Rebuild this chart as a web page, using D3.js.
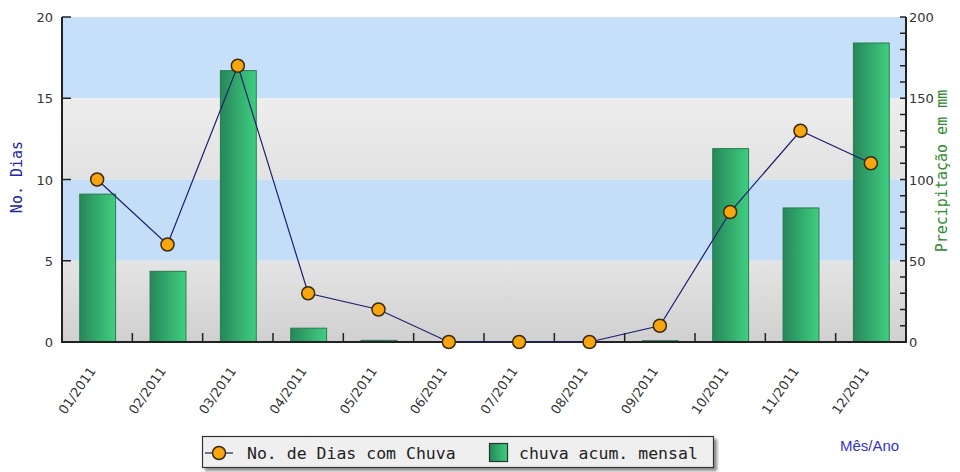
<!DOCTYPE html>
<html><head><meta charset="utf-8">
<script src="https://cdn.jsdelivr.net/npm/d3@7"></script>
<style>body{margin:0;background:#fff}svg{display:block}</style>
</head><body>
<svg id="c" width="960" height="472"></svg>
<script>
const months = ["01/2011","02/2011","03/2011","04/2011","05/2011","06/2011","07/2011","08/2011","09/2011","10/2011","11/2011","12/2011"];
const rainDays = [10,6,17,3,2,0,0,0,1,8,13,11];
const rainMM = [91,43.5,167,8.5,1,0,0,0,0.8,119,82.5,184];
const leftTicks = [0,5,10,15,20];
const rightTicks = [0,50,100,150,200];
const legendLabels = ["No. de Dias com Chuva","chuva acum. mensal"];

const svg = d3.select("#c");
const L=62,R=906,T=17,B=342;
const x = d3.scaleBand().domain(months).range([L,R]).padding(0);
const yL = d3.scaleLinear().domain([0,20]).range([B,T]);
const yR = d3.scaleLinear().domain([0,200]).range([B,T]);

const defs = svg.append("defs");
const gb = defs.append("linearGradient").attr("id","barG").attr("x1",0).attr("x2",1).attr("y1",0).attr("y2",0);
gb.append("stop").attr("offset","0%").attr("stop-color","#27875a");
gb.append("stop").attr("offset","100%").attr("stop-color","#3fcf80");
const g1 = defs.append("linearGradient").attr("id","gr1").attr("x1",0).attr("x2",0).attr("y1",0).attr("y2",1);
g1.append("stop").attr("offset","0%").attr("stop-color","#ededed");
g1.append("stop").attr("offset","100%").attr("stop-color","#e2e2e2");
const g2 = defs.append("linearGradient").attr("id","gr2").attr("x1",0).attr("x2",0).attr("y1",0).attr("y2",1);
g2.append("stop").attr("offset","0%").attr("stop-color","#e4e4e4");
g2.append("stop").attr("offset","100%").attr("stop-color","#d0d0d0");
const sh = defs.append("filter").attr("id","sh").attr("x","-5%").attr("y","-20%").attr("width","115%").attr("height","160%");
sh.append("feGaussianBlur").attr("in","SourceAlpha").attr("stdDeviation",1.5);
sh.append("feOffset").attr("dx",3).attr("dy",3).attr("result","b");
sh.append("feComponentTransfer").append("feFuncA").attr("type","linear").attr("slope",0.45);
const fm = sh.append("feMerge"); fm.append("feMergeNode"); fm.append("feMergeNode").attr("in","SourceGraphic");

// background bands
const bands = [[15,20,"#c6e0fa"],[10,15,"url(#gr1)"],[5,10,"#c4def8"],[0,5,"url(#gr2)"]];
svg.append("g").selectAll("rect").data(bands).join("rect")
  .attr("x",L).attr("width",R-L)
  .attr("y",d=>yL(d[1])).attr("height",d=>yL(d[0])-yL(d[1]))
  .attr("fill",d=>d[2]);

// bars
const bw = x.bandwidth()*0.51;
svg.append("g").selectAll("rect").data(months).join("rect")
  .attr("x",(d)=>x(d)+x.bandwidth()/2-bw/2+0.5)
  .attr("width",bw)
  .attr("y",(d,i)=>yR(rainMM[i]))
  .attr("height",(d,i)=>B-yR(rainMM[i]))
  .attr("fill","url(#barG)").attr("stroke","#2a7a4e").attr("stroke-width",1)
  .attr("display",(d,i)=>rainMM[i]>0?null:"none");

// axes
const axisCol="#222";
const ax = svg.append("g").attr("stroke",axisCol).attr("fill","none");
ax.append("line").attr("x1",L).attr("x2",L).attr("y1",T).attr("y2",B+1).attr("stroke-width",2);
ax.append("line").attr("x1",R).attr("x2",R).attr("y1",T).attr("y2",B+1).attr("stroke-width",2);
ax.append("line").attr("x1",L).attr("x2",R).attr("y1",B).attr("y2",B).attr("stroke-width",2);
ax.selectAll(".lt").data(leftTicks).join("line").attr("class","lt")
  .attr("x1",L).attr("x2",L+9).attr("y1",d=>yL(d)).attr("y2",d=>yL(d)).attr("stroke-width",1.5);
ax.selectAll(".rt").data(d3.range(0,201,10)).join("line").attr("class","rt")
  .attr("x1",R-6).attr("x2",R).attr("y1",d=>yR(d)).attr("y2",d=>yR(d)).attr("stroke-width",1.5);
ax.selectAll(".bt").data(months.slice(1)).join("line").attr("class","bt")
  .attr("x1",d=>x(d)).attr("x2",d=>x(d)).attr("y1",B).attr("y2",B-9).attr("stroke-width",1.5);

// tick labels
const tf = "DejaVu Sans, sans-serif";
svg.append("g").selectAll("text").data(leftTicks).join("text")
  .attr("x",53).attr("y",d=>yL(d)+5).attr("text-anchor","end")
  .attr("font-family",tf).attr("font-size",13).attr("fill","#333").text(d=>d);
svg.append("g").selectAll("text").data(rightTicks).join("text")
  .attr("x",909).attr("y",d=>yR(d)+5).attr("text-anchor","start")
  .attr("font-family",tf).attr("font-size",13).attr("fill","#333").text(d=>d);
svg.append("g").selectAll("text").data(months).join("text")
  .attr("transform",d=>`translate(${x(d)+x.bandwidth()/2-1},${B+29}) rotate(-55)`)
  .attr("text-anchor","end")
  .attr("font-family",tf).attr("font-size",13).attr("fill","#333").text(d=>d);

// line + markers
const pts = months.map((m,i)=>[x(m)+x.bandwidth()/2, yL(rainDays[i])]);
svg.append("path").attr("d",d3.line()(pts)).attr("fill","none").attr("stroke","#1e1e6e").attr("stroke-width",1.2);
svg.append("g").selectAll("circle").data(pts).join("circle")
  .attr("cx",d=>d[0]).attr("cy",d=>d[1]).attr("r",6.5)
  .attr("fill","#f8a50e").attr("stroke","#3a2a10").attr("stroke-width",1.5);

// axis titles
const mono = "DejaVu Sans Mono, monospace";
svg.append("text").attr("transform","translate(22,177) rotate(-90)").attr("text-anchor","middle")
  .attr("font-family",mono).attr("font-size",15).attr("fill","#2222aa").text("No. Dias");
svg.append("text").attr("transform","translate(947,171) rotate(-90)").attr("text-anchor","middle")
  .attr("font-family",mono).attr("font-size",15).attr("fill","#2e8a2e").text("Precipitação em mm");
svg.append("text").attr("x",840).attr("y",451)
  .attr("font-family","Liberation Sans, Arial, sans-serif").attr("font-size",15).attr("fill","#3333cc").text("Mês/Ano");

// legend
const lg = svg.append("g");
lg.append("rect").attr("x",202.5).attr("y",436.5).attr("width",511).attr("height",31)
  .attr("fill","#efefef").attr("stroke","#333").attr("stroke-width",1.2).attr("filter","url(#sh)");
lg.append("line").attr("x1",205).attr("x2",233).attr("y1",453).attr("y2",453).attr("stroke","#1e1e6e").attr("stroke-width",1.2);
lg.append("circle").attr("cx",219).attr("cy",453).attr("r",6.5).attr("fill","#f8a50e").attr("stroke","#3a2a10").attr("stroke-width",1.5);
lg.append("text").attr("x",247).attr("y",459).attr("font-family",mono).attr("font-size",16.5).attr("fill","#222").text(legendLabels[0]);
lg.append("rect").attr("x",489.5).attr("y",443.5).attr("width",18).attr("height",18)
  .attr("fill","url(#barG)").attr("stroke","#1f3a2a").attr("stroke-width",1.2);
lg.append("text").attr("x",519).attr("y",459).attr("font-family",mono).attr("font-size",16.5).attr("fill","#222").text(legendLabels[1]);
</script>
</body></html>
